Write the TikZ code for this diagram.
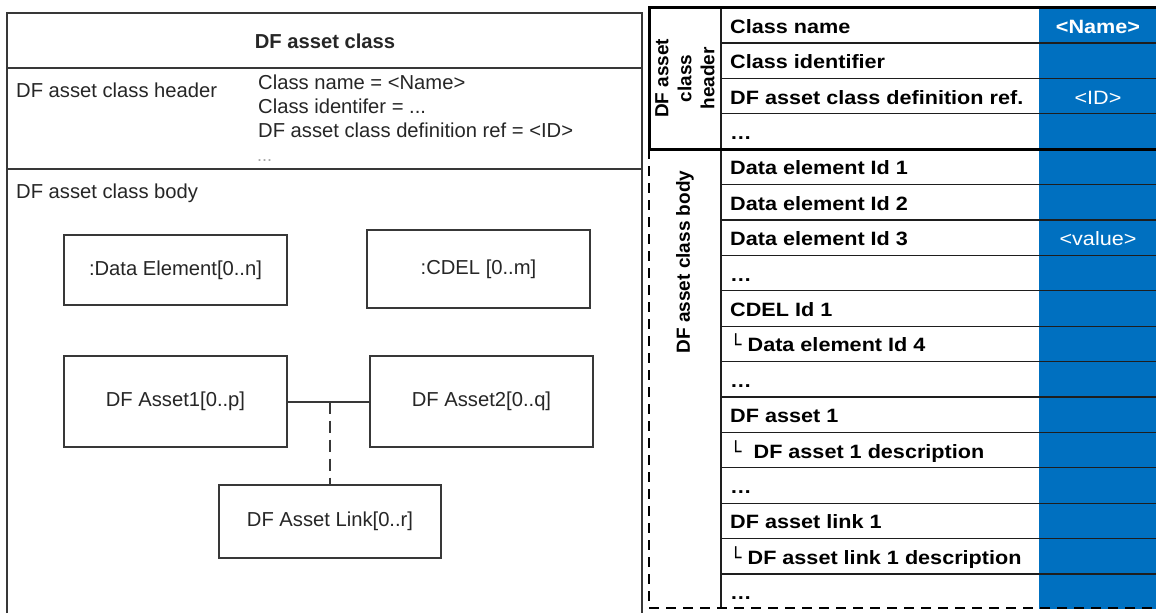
\documentclass[tikz,border=0pt]{standalone}
\usepackage{fontspec}
\setmainfont{Liberation Sans}
\newfontfamily\rowfont[FakeStretch=1.12]{Liberation Sans}
\newfontfamily\glyphfont{DejaVu Sans}
\definecolor{cellblue}{HTML}{0070C0}
\definecolor{umlgray}{HTML}{383838}
\definecolor{umltext}{HTML}{262626}
\definecolor{gridgray}{HTML}{1E1E1E}
% small corner mark in front of nested rows
\newcommand{\elbow}[1]{{\glyphfont\mdseries\fontsize{19}{19}\selectfont └}\hspace{#1}}
\begin{document}
\begin{tikzpicture}[x=1pt,y=-1pt,
  umlline/.style={draw=umlgray,line width=2pt},
  umlfont/.style={font=\fontsize{20.2}{22}\selectfont,text=umltext},
  umlbox/.style={umlline,umlfont,rectangle,inner sep=0pt},
  umltxt/.style={umlfont,anchor=base west,inner sep=0pt},
  gridline/.style={draw=gridgray,line width=1.2pt},
  rowtxt/.style={anchor=west,inner sep=0pt,text height=16pt,text depth=0pt,
    font=\rowfont\bfseries\fontsize{19.3}{22}\selectfont},
  valtxt/.style={inner sep=0pt,text height=16pt,text depth=0pt,text=white,
    font=\rowfont\fontsize{19.3}{22}\selectfont},
  sidetxt/.style={rotate=90,align=center,inner sep=0pt,
    font=\bfseries\fontsize{19}{23}\selectfont}
]
\useasboundingbox (0,0) rectangle (1156,613);
\fill[white] (0,0) rectangle (1156,613);

% ---------------- left: UML class view ----------------
\draw[umlline] (7,613) -- (7,13) -- (642,13) -- (642,613);
\draw[umlline] (7,68) -- (642,68);
\draw[umlline] (7,169) -- (642,169);

\node[umlfont,font=\bfseries\fontsize{20.2}{22}\selectfont] (title) at (325,41) {DF asset class};
\node[umltxt] (hdrlabel) at (16,97) {DF asset class header};
\node[umltxt] (attr1) at (258,89) {Class name = <Name>};
\node[umltxt] (attr2) at (258,113) {Class identifer = ...};
\node[umltxt] (attr3) at (258,137) {DF asset class definition ref = <ID>};
\node[anchor=base west,inner sep=0pt,text=gray!70,font=\fontsize{18}{18}\selectfont] (attr4) at (257,161) {...};
\node[umltxt] (bodylabel) at (16,198) {DF asset class body};

\node[umlbox,minimum width=223pt,minimum height=70pt] (de) at (175.5,270) {:Data Element[0..n]};
\node[umlbox,minimum width=223pt,minimum height=78pt] (cdel) at (478.5,269) {:CDEL [0..m]};
\node[umlbox,minimum width=223pt,minimum height=91pt] (a1) at (175.5,401.5) {DF Asset1[0..p]};
\node[umlbox,minimum width=223pt,minimum height=91pt] (a2) at (481.5,401.5) {DF Asset2[0..q]};
\node[umlbox,minimum width=222pt,minimum height=73pt] (link) at (330,521.5) {DF Asset Link[0..r]};

\draw[umlline] (a1) -- (a2);
\coordinate (j) at (330,401.5);
\draw[umlline,dash pattern=on 12pt off 7pt] (j) -- (link);

% ---------------- right: table view ----------------
\pgfmathsetmacro{\top}{7.5}
\pgfmathsetmacro{\rh}{35.4}
\pgfmathsetmacro{\hb}{\top+4*\rh}
\pgfmathsetmacro{\bb}{\hb+13*\rh}

\fill[cellblue] (1039,\top) rectangle (1160,\bb);

\foreach \i in {1,2,3}
  \draw[gridline] (721,{\top+\rh*\i}) -- (1160,{\top+\rh*\i});
\foreach \i in {1,...,12}
  \draw[gridline] (721,{\hb+\rh*\i}) -- (1160,{\hb+\rh*\i});
\draw[gridline] (721,\top) -- (721,\bb);

\draw[line width=3pt] (1160,\top) -- (649,\top) -- (649,\hb) -- (1160,\hb);
\draw[line width=2.5pt,dash pattern=on 10pt off 7pt] (649,\hb) -- (649,608) -- (1160,608);

\node[sidetxt] (hside) at (685,{(\top+\hb)/2}) {DF asset\\class\\header};
\node[sidetxt] (bside) at (685,262) {DF asset class body};

\foreach \txt [count=\i from 0] in {Class name,Class identifier,DF asset class definition ref.,…}
  \node[rowtxt] (h\i) at (730,{\top+\rh*(\i+0.5)}) {\txt};

\foreach \txt [count=\i from 0] in {Data element Id 1,Data element Id 2,Data element Id 3,…,CDEL Id 1,{\elbow{6pt}Data element Id 4},…,DF asset 1,{\elbow{12pt}DF asset 1 description},…,DF asset link 1,{\elbow{6pt}DF asset link 1 description},…}
  \node[rowtxt] (b\i) at (730,{\hb+\rh*(\i+0.5)}) {\txt};

\node[valtxt,font=\rowfont\bfseries\fontsize{19.3}{22}\selectfont] (vname) at (1098,{\top+\rh*0.5}) {<Name>};
\node[valtxt] (vid) at (1098,{\top+\rh*2.5}) {<ID>};
\node[valtxt] (vvalue) at (1098,{\hb+\rh*2.5}) {<value>};
\end{tikzpicture}
\end{document}
